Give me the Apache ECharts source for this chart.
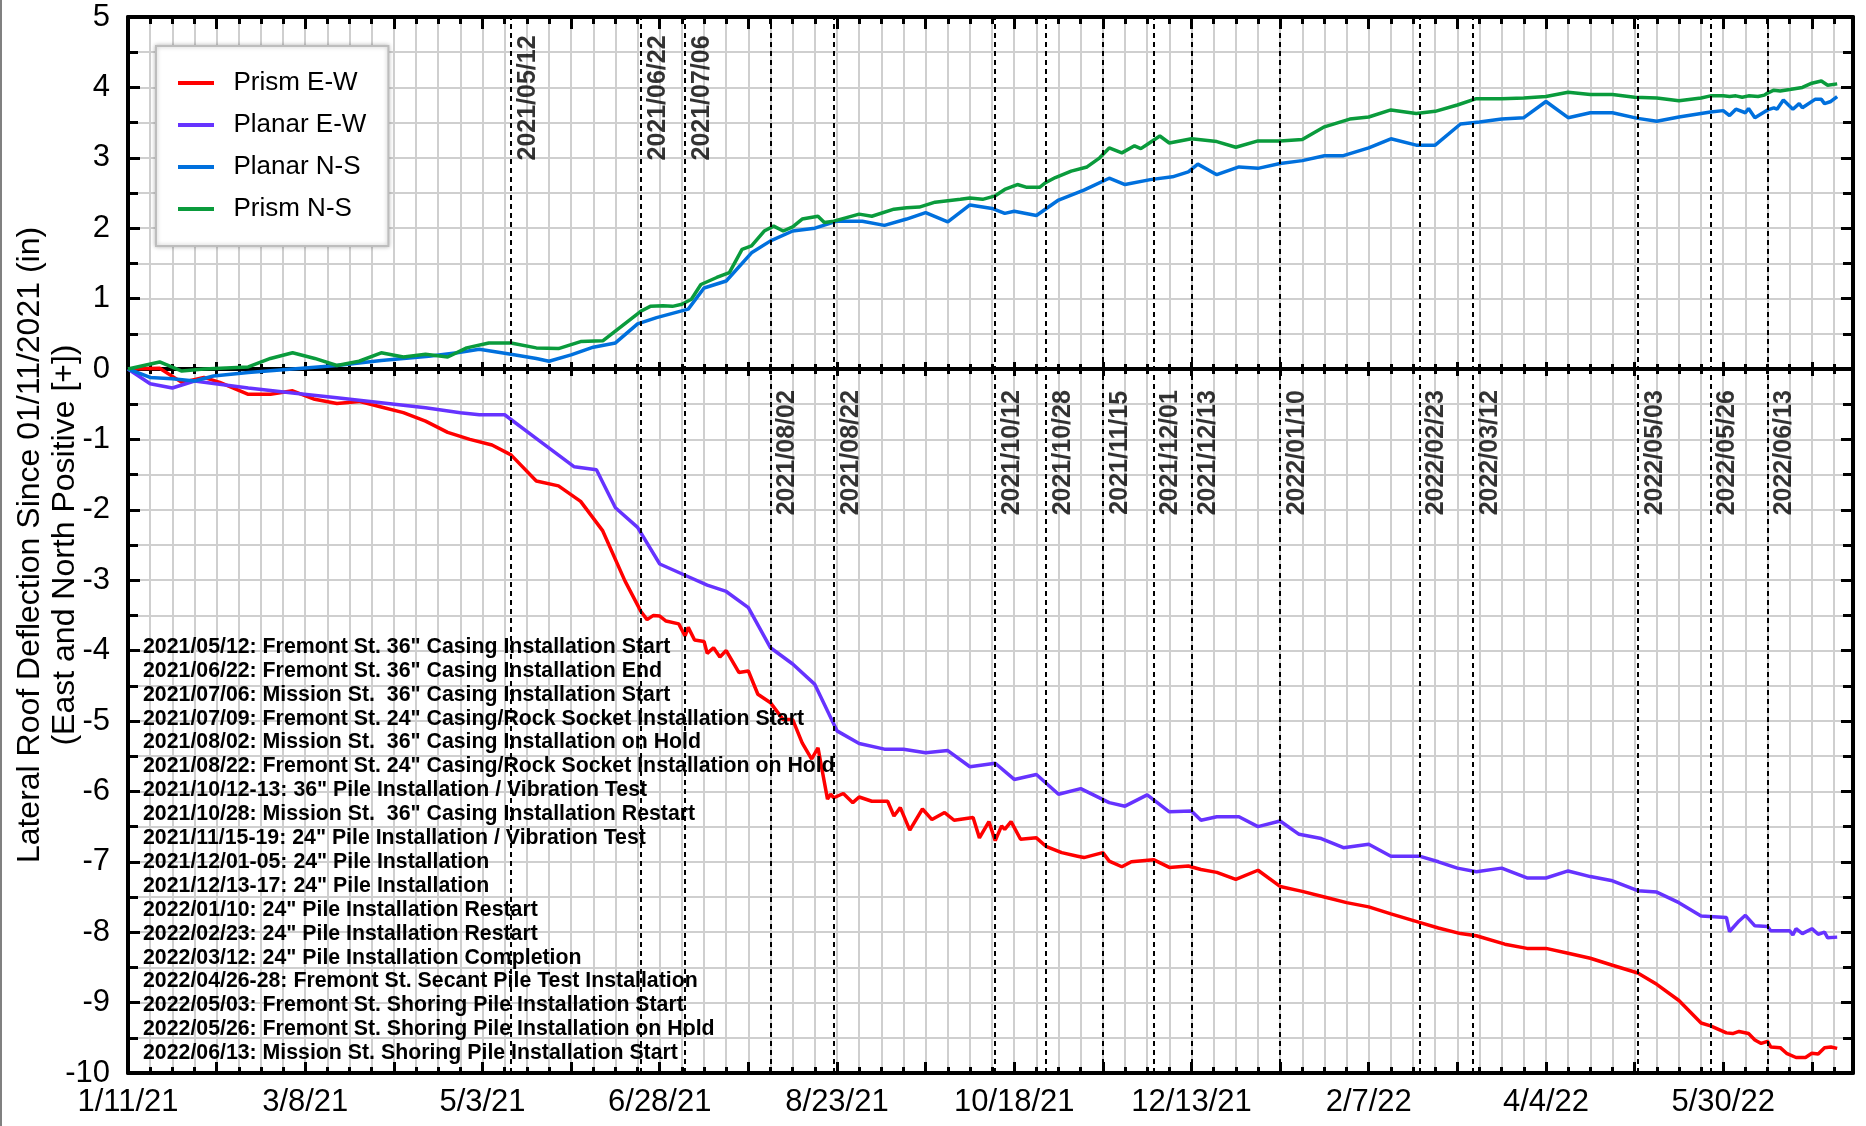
<!DOCTYPE html>
<html>
<head>
<meta charset="utf-8">
<title>Lateral Roof Deflection</title>
<script src="https://cdn.jsdelivr.net/npm/echarts@6/dist/echarts.min.js"></script>
<style>
html, body { margin: 0; padding: 0; background: #fff; }
#chart { width: 1866px; height: 1126px; }
#edge { position: absolute; left: 0; top: 0; width: 2px; height: 1126px; background: #808080; }
</style>
</head>
<body>
<div id="chart"></div>
<div id="edge"></div>
<script>
// days are counted from 1/11/21
var startDate = '2021/01/11';
var endDate = '2022/07/10';

var xTickLabels = ['1/11/21', '3/8/21', '5/3/21', '6/28/21', '8/23/21', '10/18/21', '12/13/21', '2/7/22', '4/4/22', '5/30/22'];

var prismEW = [[0,0],[10,0.01],[17,-0.19],[24,-0.12],[29,-0.19],[38,-0.36],[45,-0.36],[52,-0.31],[59,-0.43],[66,-0.49],[73,-0.46],[80,-0.54],[87,-0.62],[94,-0.74],[101,-0.90],[108,-1.0],[115,-1.08],[121,-1.22],[129,-1.59],[136,-1.66],[143,-1.88],[150,-2.30],[157,-3.01],[162,-3.44],[164,-3.56],[166,-3.50],[168,-3.51],[170,-3.58],[174,-3.62],[176,-3.79],[177,-3.67],[179,-3.85],[182,-3.87],[183,-4.04],[185,-3.96],[187,-4.09],[189,-4.0],[193,-4.31],[196,-4.29],[199,-4.62],[203,-4.74],[207,-4.98],[210,-4.98],[213,-5.31],[216,-5.54],[218,-5.38],[221,-6.11],[222,-6.04],[223,-6.09],[226,-6.03],[229,-6.16],[231,-6.08],[235,-6.14],[240,-6.14],[242,-6.35],[244,-6.23],[247,-6.55],[251,-6.25],[254,-6.40],[258,-6.30],[261,-6.41],[267,-6.37],[269,-6.66],[272,-6.43],[274,-6.70],[276,-6.49],[277,-6.54],[279,-6.43],[282,-6.68],[287,-6.66],[290,-6.78],[295,-6.87],[300,-6.92],[302,-6.94],[308,-6.87],[310,-6.99],[314,-7.07],[317,-7.0],[324,-6.97],[329,-7.08],[335,-7.06],[339,-7.11],[344,-7.15],[350,-7.25],[357,-7.12],[364,-7.35],[371,-7.42],[378,-7.50],[385,-7.58],[392,-7.64],[399,-7.74],[408,-7.86],[414,-7.94],[421,-8.02],[426,-8.05],[435,-8.17],[442,-8.23],[448,-8.23],[455,-8.30],[462,-8.37],[469,-8.47],[477,-8.58],[483,-8.74],[490,-8.97],[497,-9.29],[500,-9.33],[505,-9.43],[507,-9.44],[509,-9.41],[512,-9.44],[514,-9.53],[516,-9.58],[518,-9.55],[519,-9.63],[522,-9.64],[524,-9.72],[527,-9.78],[530,-9.78],[532,-9.72],[534,-9.73],[536,-9.64],[538,-9.63],[540,-9.65]];

var planarEW = [[0,0],[7,-0.21],[14,-0.27],[21,-0.17],[38,-0.27],[52,-0.34],[66,-0.41],[80,-0.48],[94,-0.55],[105,-0.62],[111,-0.65],[119,-0.65],[130,-1.02],[141,-1.39],[148,-1.43],[154,-1.97],[161,-2.25],[168,-2.77],[176,-2.93],[183,-3.07],[189,-3.16],[196,-3.39],[203,-3.96],[210,-4.19],[217,-4.48],[224,-5.14],[231,-5.32],[239,-5.40],[245,-5.40],[252,-5.45],[259,-5.42],[266,-5.65],[274,-5.60],[280,-5.83],[287,-5.76],[294,-6.04],[301,-5.96],[310,-6.16],[315,-6.21],[322,-6.05],[329,-6.29],[336,-6.28],[339,-6.41],[344,-6.36],[351,-6.36],[357,-6.50],[364,-6.42],[370,-6.61],[377,-6.67],[384,-6.80],[392,-6.75],[399,-6.92],[408,-6.92],[414,-7.0],[420,-7.09],[426,-7.14],[434,-7.09],[442,-7.23],[448,-7.23],[455,-7.13],[462,-7.21],[469,-7.27],[477,-7.41],[483,-7.43],[490,-7.58],[497,-7.77],[505,-7.79],[506,-7.99],[509,-7.84],[511,-7.76],[514,-7.91],[518,-7.92],[519,-7.98],[525,-7.98],[526,-8.04],[527,-7.95],[529,-8.02],[532,-7.95],[534,-8.03],[536,-8.0],[537,-8.08],[540,-8.07]];

var planarNS = [[0,0],[7,-0.12],[14,-0.14],[21,-0.17],[27,-0.10],[38,-0.05],[52,0.0],[66,0.05],[80,0.12],[95,0.18],[104,0.23],[111,0.28],[121,0.21],[129,0.15],[133,0.11],[140,0.20],[147,0.31],[154,0.37],[161,0.64],[167,0.73],[177,0.85],[182,1.15],[189,1.25],[197,1.65],[203,1.82],[210,1.96],[217,2.0],[224,2.10],[232,2.10],[239,2.04],[246,2.13],[252,2.22],[259,2.09],[266,2.33],[273,2.28],[277,2.21],[280,2.24],[287,2.18],[294,2.40],[302,2.54],[310,2.71],[315,2.62],[323,2.69],[330,2.73],[335,2.80],[338,2.91],[344,2.76],[351,2.87],[357,2.85],[364,2.92],[371,2.96],[378,3.03],[384,3.03],[392,3.14],[399,3.27],[407,3.18],[413,3.18],[421,3.48],[427,3.51],[434,3.55],[441,3.57],[448,3.80],[455,3.57],[462,3.64],[469,3.64],[477,3.56],[483,3.52],[490,3.58],[497,3.63],[500,3.65],[504,3.67],[506,3.60],[508,3.69],[511,3.64],[512,3.70],[514,3.57],[518,3.68],[520,3.71],[521,3.69],[523,3.82],[526,3.69],[528,3.77],[529,3.71],[533,3.83],[535,3.83],[536,3.77],[538,3.80],[540,3.87]];

var prismNS = [[0,0],[10,0.10],[17,-0.03],[24,0.0],[38,0.03],[45,0.15],[52,0.23],[59,0.15],[66,0.05],[73,0.11],[80,0.23],[87,0.17],[94,0.21],[101,0.17],[107,0.30],[114,0.37],[121,0.37],[129,0.30],[136,0.29],[143,0.39],[150,0.40],[162,0.82],[165,0.89],[169,0.90],[172,0.89],[175,0.92],[178,0.99],[181,1.2],[186,1.30],[190,1.37],[194,1.70],[197,1.75],[201,1.96],[204,2.03],[207,1.96],[210,2.02],[213,2.13],[218,2.17],[220,2.08],[223,2.10],[231,2.20],[235,2.17],[242,2.27],[246,2.29],[250,2.30],[255,2.37],[263,2.41],[266,2.43],[270,2.41],[274,2.46],[277,2.55],[281,2.62],[284,2.58],[288,2.58],[290,2.65],[293,2.72],[298,2.81],[303,2.87],[307,3.0],[310,3.14],[314,3.07],[318,3.17],[320,3.13],[322,3.19],[326,3.31],[329,3.21],[336,3.27],[344,3.23],[350,3.15],[357,3.24],[364,3.24],[371,3.26],[378,3.44],[386,3.55],[392,3.58],[399,3.68],[407,3.63],[413,3.66],[420,3.75],[426,3.84],[434,3.84],[441,3.85],[448,3.87],[455,3.93],[462,3.90],[469,3.90],[476,3.86],[483,3.85],[490,3.81],[497,3.85],[500,3.88],[504,3.88],[506,3.87],[508,3.88],[510,3.86],[512,3.88],[515,3.87],[517,3.89],[518,3.92],[520,3.96],[522,3.95],[525,3.97],[529,4.0],[532,4.06],[535,4.09],[537,4.03],[540,4.05]];

// dashed event lines
var eventDates = ['2021/05/12', '2021/06/22', '2021/07/06', '2021/08/02', '2021/08/22', '2021/10/12', '2021/10/28', '2021/11/15', '2021/12/01', '2021/12/13', '2022/01/10', '2022/02/23', '2022/03/12', '2022/05/03', '2022/05/26', '2022/06/13'];
var upperEventDates = ['2021/05/12', '2021/06/22', '2021/07/06'];

var annotationLines = [
  '2021/05/12: Fremont St. 36" Casing Installation Start',
  '2021/06/22: Fremont St. 36" Casing Installation End',
  '2021/07/06: Mission St.  36" Casing Installation Start',
  '2021/07/09: Fremont St. 24" Casing/Rock Socket Installation Start',
  '2021/08/02: Mission St.  36" Casing Installation on Hold',
  '2021/08/22: Fremont St. 24" Casing/Rock Socket Installation on Hold',
  '2021/10/12-13: 36" Pile Installation / Vibration Test',
  '2021/10/28: Mission St.  36" Casing Installation Restart',
  '2021/11/15-19: 24" Pile Installation / Vibration Test',
  '2021/12/01-05: 24" Pile Installation',
  '2021/12/13-17: 24" Pile Installation',
  '2022/01/10: 24" Pile Installation Restart',
  '2022/02/23: 24" Pile Installation Restart',
  '2022/03/12: 24" Pile Installation Completion',
  '2022/04/26-28: Fremont St. Secant Pile Test Installation',
  '2022/05/03: Fremont St. Shoring Pile Installation Start',
  '2022/05/26: Fremont St. Shoring Pile Installation on Hold',
  '2022/06/13: Mission St. Shoring Pile Installation Start'
];

var FONT = '"Liberation Sans", Arial, sans-serif';

function dayOf(s) {
  var p = s.split('/');
  var a = startDate.split('/');
  return Math.round((Date.UTC(+p[0], p[1] - 1, +p[2]) - Date.UTC(+a[0], a[1] - 1, +a[2])) / 86400000);
}
var xMax = dayOf(endDate);

var upperY = 3.85;   // label centre for the top group
var lowerY = -1.19;  // label centre for the rest

var labelData = eventDates.map(function (d) {
  return { name: d, value: [dayOf(d), upperEventDates.indexOf(d) >= 0 ? upperY : lowerY] };
});

var tickStyle = { color: '#000', width: 3 };
var gridLine = { show: true, lineStyle: { color: '#cfcfcf', width: 2 } };

function xAxisBase(extra) {
  var a = {
    type: 'value', min: 0, max: xMax, interval: 28,
    axisLabel: { show: false },
    splitLine: { show: false },
    minorSplitLine: { show: false }
  };
  for (var k in extra) a[k] = extra[k];
  return a;
}

function lineSeries(name, color, data) {
  return {
    name: name, type: 'line', data: data,
    showSymbol: false, symbol: 'none',
    lineStyle: { color: color, width: 3.5 },
    itemStyle: { color: color },
    z: 3
  };
}

var chart = echarts.init(document.getElementById('chart'));
chart.setOption({
  animation: false,
  backgroundColor: '#fff',
  textStyle: { fontFamily: FONT },
  grid: { left: 128, right: 13, top: 17, bottom: 53, outerBoundsMode: 'none', containLabel: false },
  title: {
    text: annotationLines.join('\n'),
    left: 143, top: 635, padding: 0,
    textStyle: { fontSize: 21.3, fontWeight: 'bold', color: '#000', lineHeight: 23.9, fontFamily: FONT }
  },
  legend: {
    orient: 'vertical', left: 156, top: 46,
    padding: [24, 22, 24, 22], itemGap: 16,
    itemWidth: 36, itemHeight: 4, icon: 'rect',
    backgroundColor: '#fff', borderColor: '#bdbdbd', borderWidth: 2,
    shadowBlur: 4, shadowColor: 'rgba(0,0,0,0.25)',
    textStyle: { fontSize: 26, color: '#000', fontFamily: FONT },
    formatter: function (n) { return '  ' + n; },
    data: ['Prism E-W', 'Planar E-W', 'Planar N-S', 'Prism N-S']
  },
  xAxis: [
    // bottom frame with labels
    xAxisBase({
      position: 'bottom',
      axisLine: { onZero: false, lineStyle: { color: '#000', width: 4 } },
      axisTick: { inside: true, length: 11, lineStyle: tickStyle },
      minorTick: { show: true, splitNumber: 4, length: 6, lineStyle: tickStyle },
      axisLabel: {
        show: true, margin: 14, fontSize: 31, color: '#000', fontFamily: FONT,
        formatter: function (v) { return v % 56 === 0 ? (xTickLabels[v / 56] || '') : ''; }
      },
      splitLine: gridLine,
      minorSplitLine: gridLine
    }),
    // top frame
    xAxisBase({
      position: 'top',
      axisLine: { onZero: false, lineStyle: { color: '#000', width: 4 } },
      axisTick: { inside: true, length: 12, lineStyle: tickStyle },
      minorTick: { show: true, splitNumber: 4, length: 7, lineStyle: tickStyle }
    }),
    // zero line, ticks down
    xAxisBase({
      position: 'bottom',
      axisLine: { onZero: true, onZeroAxisIndex: 0, lineStyle: { color: '#000', width: 4 } },
      axisTick: { inside: false, length: 7, lineStyle: tickStyle },
      minorTick: { show: true, splitNumber: 4, length: 5, lineStyle: tickStyle }
    }),
    // zero line, ticks up
    xAxisBase({
      position: 'bottom',
      axisLine: { onZero: true, onZeroAxisIndex: 0, lineStyle: { color: '#000', width: 4 } },
      axisTick: { inside: true, length: 7, lineStyle: tickStyle },
      minorTick: { show: true, splitNumber: 4, length: 5, lineStyle: tickStyle }
    })
  ],
  yAxis: [
    {
      type: 'value', min: -10, max: 5, interval: 1, position: 'left',
      axisLine: { onZero: false, lineStyle: { color: '#000', width: 4 } },
      axisTick: { inside: true, length: 12, lineStyle: tickStyle },
      minorTick: { show: true, splitNumber: 2, length: 10, lineStyle: tickStyle },
      axisLabel: { fontSize: 31, color: '#000', margin: 18, fontFamily: FONT },
      splitLine: gridLine,
      minorSplitLine: gridLine,
      name: 'Lateral Roof Deflection Since 01/11/2021 (in)\n(East and North Positive [+])',
      nameLocation: 'middle', nameGap: 45, nameMoveOverlap: false,
      nameTextStyle: { fontSize: 32, lineHeight: 35, color: '#000', fontFamily: FONT }
    },
    {
      type: 'value', min: -10, max: 5, interval: 1, position: 'right',
      axisLine: { onZero: false, lineStyle: { color: '#000', width: 4 } },
      axisTick: { inside: true, length: 12, lineStyle: tickStyle },
      minorTick: { show: true, splitNumber: 2, length: 10, lineStyle: tickStyle },
      axisLabel: { show: false },
      splitLine: { show: false }
    }
  ],
  series: [
    lineSeries('Prism E-W', '#ff0000', prismEW),
    lineSeries('Planar E-W', '#6633ff', planarEW),
    lineSeries('Planar N-S', '#0070dd', planarNS),
    lineSeries('Prism N-S', '#0a9b3c', prismNS),
    {
      name: 'events', type: 'scatter', data: labelData,
      symbolSize: 1, itemStyle: { color: 'transparent' },
      silent: true, z: 4,
      label: {
        show: true, position: 'inside', rotate: 90, offset: [0, 17],
        formatter: '{b}', fontSize: 25, fontWeight: 'bold', color: '#000', fontFamily: FONT
      },
      markLine: {
        silent: true, symbol: ['none', 'none'],
        label: { show: false },
        lineStyle: { color: '#000', type: [5, 4], width: 2 },
        data: eventDates.map(function (d) { return { xAxis: dayOf(d) }; })
      }
    }
  ]
});
</script>
</body>
</html>
